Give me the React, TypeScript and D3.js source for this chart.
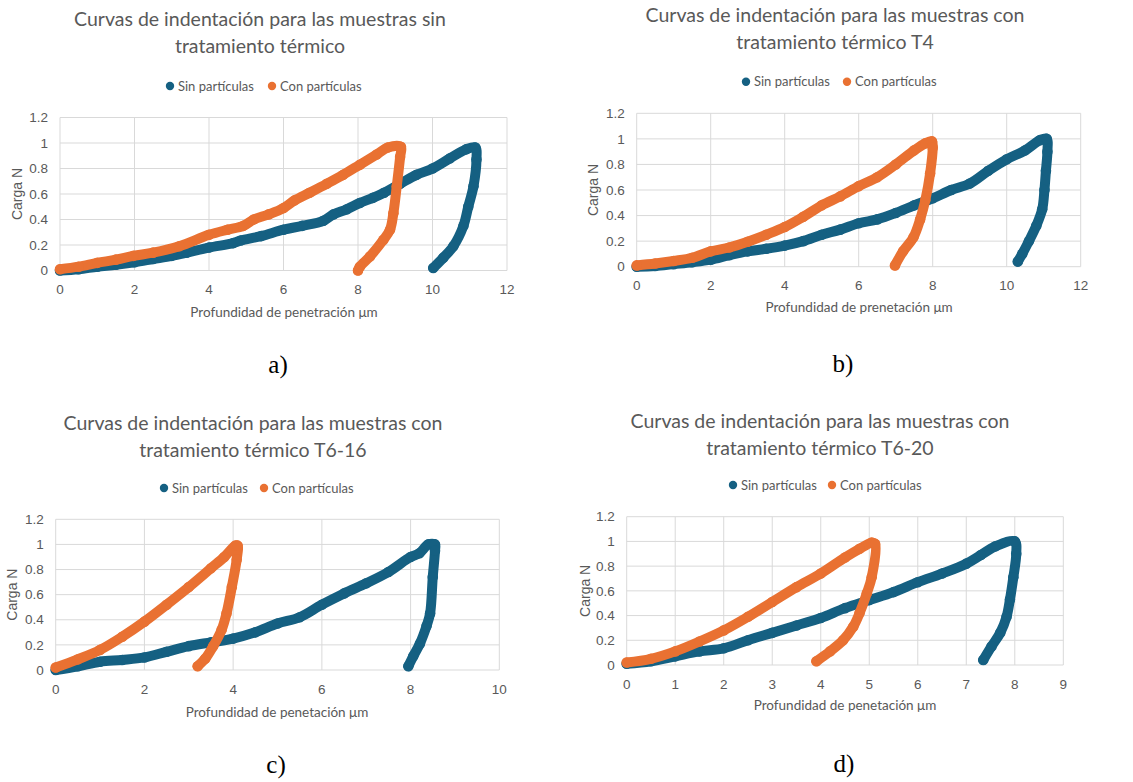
import * as d3 from "d3";

type Pt = [number, number];

// depth (µm), load (N), loading then unloading
const sinA: Pt[] = [
  [0, 0], [0.5, 0.01], [1, 0.03], [1.5, 0.045], [2, 0.065], [2.5, 0.09], [3, 0.115], [3.4, 0.14],
  [4, 0.18], [4.65, 0.215], [4.85, 0.235], [5.4, 0.27], [6, 0.32], [6.5, 0.35], [7.07, 0.39],
  [7.34, 0.44], [7.7, 0.48], [8.05, 0.53], [8.4, 0.57], [8.7, 0.61], [9.13, 0.68], [9.57, 0.75],
  [10, 0.8], [10.47, 0.88], [10.9, 0.95], [11.15, 0.965],
  [11.18, 0.87], [11.1, 0.66], [10.96, 0.5], [10.83, 0.35], [10.56, 0.19], [10.29, 0.1], [10.02, 0.02],
];
const conA: Pt[] = [
  [0, 0.01], [0.5, 0.03], [1, 0.06], [1.5, 0.085], [1.97, 0.115], [2.5, 0.14], [3.2, 0.19],
  [4, 0.28], [4.5, 0.32], [4.92, 0.35], [5.2, 0.4], [5.6, 0.44], [6, 0.49], [6.3, 0.55],
  [6.7, 0.61], [7.16, 0.68], [7.6, 0.75], [8.05, 0.83], [8.5, 0.91], [8.8, 0.965], [9.15, 0.97],
  [9.13, 0.89], [9.04, 0.66], [8.95, 0.45], [8.86, 0.32], [8.68, 0.24], [8.32, 0.11], [8.05, 0.03], [8.0, 0.0],
];
const sinB: Pt[] = [
  [0, 0], [0.5, 0.005], [1, 0.02], [1.5, 0.035], [2, 0.055], [2.5, 0.09], [3, 0.12], [3.5, 0.14],
  [4, 0.165], [4.5, 0.2], [5, 0.25], [5.5, 0.29], [6, 0.34], [6.5, 0.37], [7, 0.42], [7.5, 0.48],
  [8, 0.535], [8.5, 0.6], [9, 0.65], [9.5, 0.75], [10, 0.84], [10.5, 0.91], [10.9, 0.99], [11.08, 1.0],
  [11.1, 0.9], [11.06, 0.75], [11.02, 0.6], [10.96, 0.45], [10.8, 0.32], [10.6, 0.2], [10.42, 0.1], [10.3, 0.04],
];
const conB: Pt[] = [
  [0, 0.01], [0.5, 0.025], [1, 0.045], [1.5, 0.07], [2, 0.12], [2.5, 0.15], [3, 0.195], [3.5, 0.25],
  [4, 0.31], [4.5, 0.39], [5, 0.48], [5.5, 0.55], [6, 0.63], [6.5, 0.7], [7, 0.8], [7.5, 0.91],
  [7.8, 0.965], [7.98, 0.98],
  [8.0, 0.93], [7.93, 0.73], [7.8, 0.52], [7.66, 0.37], [7.48, 0.23], [7.2, 0.12], [6.98, 0.01],
];
const sinC: Pt[] = [
  [0, 0], [0.5, 0.03], [1, 0.066], [1.5, 0.08], [2, 0.1], [2.5, 0.145], [3, 0.19], [3.5, 0.22],
  [4, 0.25], [4.5, 0.3], [5, 0.37], [5.5, 0.42], [6, 0.52], [6.5, 0.61], [7, 0.69], [7.5, 0.78],
  [8, 0.9], [8.2, 0.93], [8.4, 1.0], [8.55, 1.0],
  [8.55, 0.95], [8.5, 0.74], [8.44, 0.45], [8.36, 0.35], [8.21, 0.21], [8.06, 0.11], [7.95, 0.03],
];
const conC: Pt[] = [
  [0, 0.02], [0.5, 0.085], [1, 0.16], [1.5, 0.265], [2, 0.385], [2.5, 0.52], [3, 0.66], [3.5, 0.81],
  [3.8, 0.9], [4.05, 0.99], [4.1, 0.99],
  [4.08, 0.88], [3.97, 0.66], [3.85, 0.45], [3.74, 0.32], [3.55, 0.19], [3.37, 0.09], [3.2, 0.03],
];
const sinD: Pt[] = [
  [0, 0.01], [0.5, 0.03], [1, 0.07], [1.5, 0.11], [2, 0.135], [2.5, 0.2], [3, 0.26], [3.5, 0.32],
  [4, 0.38], [4.5, 0.46], [5, 0.525], [5.5, 0.59], [6, 0.67], [6.5, 0.74], [7, 0.82], [7.3, 0.89],
  [7.6, 0.96], [8.0, 1.0],
  [8.03, 0.9], [7.97, 0.71], [7.9, 0.53], [7.83, 0.39], [7.7, 0.26], [7.52, 0.15], [7.35, 0.04],
];
const conD: Pt[] = [
  [0, 0.02], [0.5, 0.05], [1, 0.11], [1.5, 0.19], [2, 0.28], [2.5, 0.39], [3, 0.51], [3.5, 0.63],
  [4, 0.74], [4.5, 0.87], [4.8, 0.94], [5.05, 0.99], [5.12, 0.98],
  [5.05, 0.71], [4.95, 0.58], [4.8, 0.42], [4.67, 0.31], [4.46, 0.2], [4.19, 0.11], [3.91, 0.03],
];

const seriesNames = ["Sin partículas", "Con partículas"];
const yTicks = [0, 0.2, 0.4, 0.6, 0.8, 1, 1.2];

const BLUE = "#156082";
const ORANGE = "#E97132";
const TEXT = "#595959";
const GRID = "#d9d9d9";

interface PanelCfg {
  title: string[];
  titleX: number;
  titleY: number;
  legendY: number;
  legendX: [number, number];
  plot: { l: number; r: number; t: number; b: number };
  xMax: number;
  xLabel: string;
  xLabelX: number;
  xLabelY: number;
  yLabelX: number;
  tag: string;
  tagX: number;
  tagY: number;
  sin: Pt[];
  con: Pt[];
}

const panels: PanelCfg[] = [
  {
    title: ["Curvas de indentación para las muestras sin", "tratamiento térmico"],
    titleX: 260, titleY: 26, legendY: 86, legendX: [170, 272],
    plot: { l: 60, r: 507, t: 117.5, b: 270.5 }, xMax: 12,
    xLabel: "Profundidad de penetración μm", xLabelX: 284, xLabelY: 317, yLabelX: 17,
    tag: "a)", tagX: 278, tagY: 373, sin: sinA, con: conA,
  },
  {
    title: ["Curvas de indentación para las muestras con", "tratamiento térmico T4"],
    titleX: 835, titleY: 22, legendY: 81.7, legendX: [746, 847],
    plot: { l: 636.7, r: 1080.7, t: 113.3, b: 266.7 }, xMax: 12,
    xLabel: "Profundidad de prenetación μm", xLabelX: 859, xLabelY: 312, yLabelX: 593,
    tag: "b)", tagX: 843, tagY: 372, sin: sinB, con: conB,
  },
  {
    title: ["Curvas de indentación para las muestras con", "tratamiento térmico T6-16"],
    titleX: 253, titleY: 430, legendY: 488, legendX: [164, 264],
    plot: { l: 55.7, r: 499.3, t: 519.3, b: 670 }, xMax: 10,
    xLabel: "Profundidad de penetación μm", xLabelX: 277, xLabelY: 717, yLabelX: 12,
    tag: "c)", tagX: 276, tagY: 773, sin: sinC, con: conC,
  },
  {
    title: ["Curvas de indentación para las muestras con", "tratamiento térmico T6-20"],
    titleX: 820, titleY: 428, legendY: 485, legendX: [733, 832],
    plot: { l: 626.7, r: 1063.3, t: 516.7, b: 665 }, xMax: 9,
    xLabel: "Profundidad de penetación μm", xLabelX: 845, xLabelY: 710, yLabelX: 585,
    tag: "d)", tagX: 844, tagY: 772, sin: sinD, con: conD,
  },
];

const SANS = "Lato, 'Open Sans', sans-serif";
const ARIAL = "'Liberation Sans', Arial, sans-serif";

function Panel({ p }: { p: PanelCfg }) {
  const x = d3.scaleLinear().domain([0, p.xMax]).range([p.plot.l, p.plot.r]);
  const y = d3.scaleLinear().domain([0, 1.2]).range([p.plot.b, p.plot.t]);
  const xTicks = d3.range(0, p.xMax + 1, p.xMax >= 10 ? 2 : 1);
  const line = d3
    .line<Pt>()
    .x((d) => x(d[0]))
    .y((d) => y(d[1]))
    .curve(d3.curveCatmullRom.alpha(0.5));
  const yMid = (p.plot.t + p.plot.b) / 2;

  return (
    <g>
      {p.title.map((t, i) => (
        <text key={i} x={p.titleX} y={p.titleY + i * 27} textAnchor="middle"
          fontFamily={SANS} fontSize={19.5} fill={TEXT}>{t}</text>
      ))}
      {seriesNames.map((n, i) => (
        <g key={n}>
          <circle cx={p.legendX[i]} cy={p.legendY} r={4.2} fill={i ? ORANGE : BLUE} />
          <text x={p.legendX[i] + 8} y={p.legendY} dy="0.35em" fontFamily={SANS}
            fontSize={13} fill={TEXT}>{n}</text>
        </g>
      ))}
      {yTicks.map((t) => (
        <line key={"y" + t} x1={p.plot.l} x2={p.plot.r} y1={y(t)} y2={y(t)} stroke={GRID} strokeWidth={1} />
      ))}
      {xTicks.map((t) => (
        <line key={"x" + t} x1={x(t)} x2={x(t)} y1={p.plot.t} y2={p.plot.b} stroke={GRID} strokeWidth={1} />
      ))}
      {yTicks.map((t) => (
        <text key={"yl" + t} x={p.plot.l - 12} y={y(t)} dy="0.35em" textAnchor="end"
          fontFamily={ARIAL} fontSize={13.5} fill={TEXT}>{t}</text>
      ))}
      {xTicks.map((t) => (
        <text key={"xl" + t} x={x(t)} y={p.plot.b + 19} dy="0.35em" textAnchor="middle"
          fontFamily={ARIAL} fontSize={13.5} fill={TEXT}>{t}</text>
      ))}
      <text transform={`translate(${p.yLabelX},${yMid}) rotate(-90)`} dy="0.35em" textAnchor="middle"
        fontFamily={ARIAL} fontSize={14} fill={TEXT}>Carga N</text>
      <text x={p.xLabelX} y={p.xLabelY} textAnchor="middle" fontFamily={SANS} fontSize={13.5}
        fill={TEXT}>{p.xLabel}</text>
      {[{ d: p.sin, c: BLUE }, { d: p.con, c: ORANGE }].map((s, i) => (
        <g key={i}>
          <path d={line(s.d) ?? ""} fill="none" stroke={s.c} strokeWidth={10}
            strokeLinejoin="round" strokeLinecap="round" />
          {s.d.map((pt, j) => (
            <circle key={j} cx={x(pt[0])} cy={y(pt[1])} r={5.3} fill={s.c} />
          ))}
        </g>
      ))}
      <text x={p.tagX} y={p.tagY} textAnchor="middle" fontFamily="'Liberation Serif', 'DejaVu Serif', serif"
        fontSize={25} fill="#000">{p.tag}</text>
    </g>
  );
}

export default function App() {
  return (
    <svg width={1133} height={782} style={{ position: "absolute", left: 0, top: 0, background: "#fff" }}>
      <rect width={1133} height={782} fill="#fff" />
      {panels.map((p) => (
        <Panel key={p.tag} p={p} />
      ))}
    </svg>
  );
}
